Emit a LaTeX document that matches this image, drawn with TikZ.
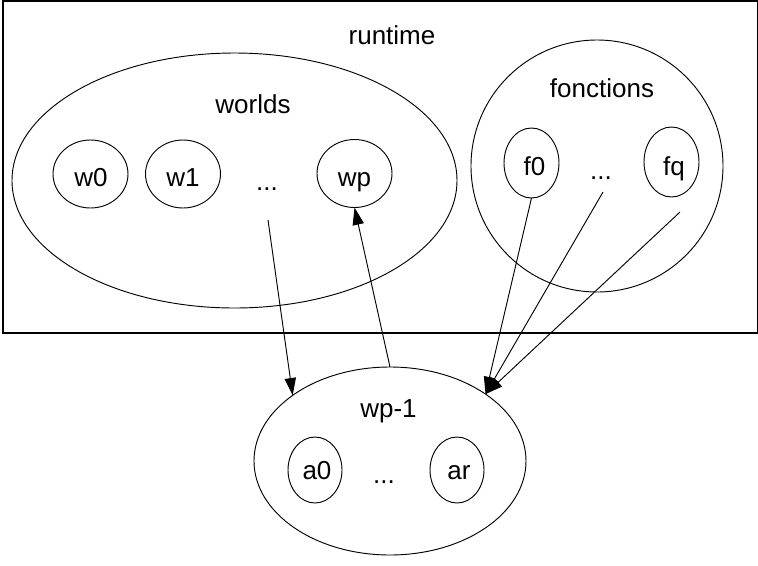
\documentclass[tikz,border=0pt]{standalone}
\usepackage{fontspec}
\setmainfont{Liberation Sans}
\usetikzlibrary{shapes.geometric,arrows.meta}
\begin{document}
\begin{tikzpicture}[x=0.75pt,y=-0.75pt,
  every node/.style={inner sep=0pt,outer sep=0pt},
  shell/.style={draw,ellipse,line width=0.7pt},
  lbl/.style={anchor=base,font=\fontsize{19.5}{23}\selectfont},
  arr/.style={line width=0.7pt,-{Triangle[length=13pt,width=8.5pt]}},
  link/.style={line width=0.7pt}]
\useasboundingbox (0,0) rectangle (758,565);
\draw[line width=1.1pt] (3,1) rectangle (757.4,333);
\node[lbl] (runtime) at (392,44) {runtime};
% worlds
\node[shell,minimum width=333.75pt,minimum height=191.25pt] (worlds) at (234.5,180.5) {};
\node[lbl] (worldsl) at (253,113) {worlds};
\node[shell,minimum width=56.25pt,minimum height=51pt] (w0) at (90.5,174) {};
\node[shell,minimum width=56.25pt,minimum height=51pt] (w1) at (183,174) {};
\node[shell,minimum width=56.25pt,minimum height=51pt] (wp) at (354.5,173.5) {};
\node[lbl] (w0l) at (91,186) {w0};
\node[lbl] (w1l) at (183,186) {w1};
\node[lbl] (wpl) at (354.5,186) {wp};
\node[lbl] (wdots) at (267,190) {...};
% fonctions
\node[shell,minimum width=189pt,minimum height=189pt] (fonctions) at (597,166) {};
\node[lbl] (fonctionsl) at (602,97) {fonctions};
\node[shell,minimum width=41.25pt,minimum height=52.5pt] (f0) at (531.5,163) {};
\node[shell,minimum width=41.25pt,minimum height=52.5pt] (fq) at (671.5,162) {};
\node[lbl] (f0l) at (534.5,175) {f0};
\node[lbl] (fql) at (674,175) {fq};
\node[lbl] (fdots) at (601,179) {...};
% wp-1
\node[shell,minimum width=204pt,minimum height=141pt] (wp1) at (390,461) {};
\node[lbl] (wp1l) at (388.5,417) {wp-1};
\node[shell,minimum width=40.5pt,minimum height=49.5pt] (a0) at (315,470) {};
\node[shell,minimum width=40.5pt,minimum height=49.5pt] (ar) at (457,470) {};
\node[lbl] (a0l) at (317,479) {a0};
\node[lbl] (arl) at (459,479) {ar};
\node[lbl] (adots) at (384,483) {...};
% connectors
\coordinate (s1) at (268,220);
\coordinate (s2) at (603,192);
\coordinate (s3) at (680,212);
\draw[arr] (s1) -- (wp1.146);
\draw[arr] (wp1.north) -- (wp.south);
\draw[arr] (f0.south) -- (wp1.35);
\draw[arr] (s2) -- (wp1.35);
\draw[arr] (s3) -- (wp1.35);
\end{tikzpicture}
\end{document}
